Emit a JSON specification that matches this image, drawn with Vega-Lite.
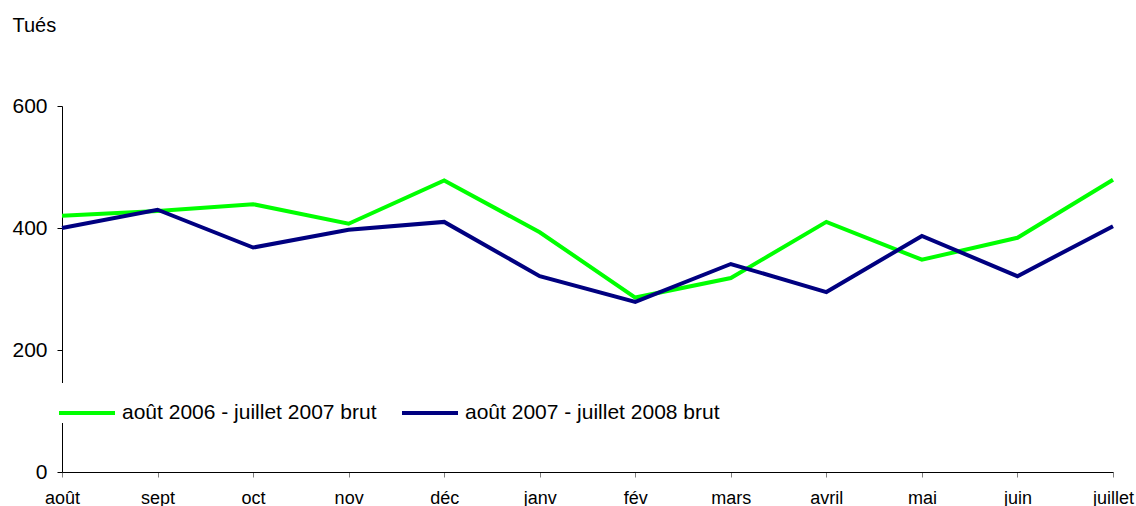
{
  "$schema": "https://vega.github.io/schema/vega-lite/v6.json",
  "autosize": "none",
  "width": 1051,
  "height": 366,
  "padding": {"left": 62, "top": 106, "right": 23, "bottom": 34},
  "background": "white",
  "config": {
    "font": "Liberation Sans",
    "view": {"stroke": null}
  },
  "data": {
    "values": [
      {"mois": "août", "serie": "août 2006 - juillet 2007 brut", "tues": 420},
      {"mois": "sept", "serie": "août 2006 - juillet 2007 brut", "tues": 428},
      {"mois": "oct", "serie": "août 2006 - juillet 2007 brut", "tues": 439},
      {"mois": "nov", "serie": "août 2006 - juillet 2007 brut", "tues": 407},
      {"mois": "déc", "serie": "août 2006 - juillet 2007 brut", "tues": 478},
      {"mois": "janv", "serie": "août 2006 - juillet 2007 brut", "tues": 393},
      {"mois": "fév", "serie": "août 2006 - juillet 2007 brut", "tues": 286},
      {"mois": "mars", "serie": "août 2006 - juillet 2007 brut", "tues": 318},
      {"mois": "avril", "serie": "août 2006 - juillet 2007 brut", "tues": 410},
      {"mois": "mai", "serie": "août 2006 - juillet 2007 brut", "tues": 348},
      {"mois": "juin", "serie": "août 2006 - juillet 2007 brut", "tues": 384},
      {"mois": "juillet", "serie": "août 2006 - juillet 2007 brut", "tues": 479},
      {"mois": "août", "serie": "août 2007 - juillet 2008 brut", "tues": 400},
      {"mois": "sept", "serie": "août 2007 - juillet 2008 brut", "tues": 430},
      {"mois": "oct", "serie": "août 2007 - juillet 2008 brut", "tues": 368},
      {"mois": "nov", "serie": "août 2007 - juillet 2008 brut", "tues": 397},
      {"mois": "déc", "serie": "août 2007 - juillet 2008 brut", "tues": 410},
      {"mois": "janv", "serie": "août 2007 - juillet 2008 brut", "tues": 321},
      {"mois": "fév", "serie": "août 2007 - juillet 2008 brut", "tues": 279},
      {"mois": "mars", "serie": "août 2007 - juillet 2008 brut", "tues": 341},
      {"mois": "avril", "serie": "août 2007 - juillet 2008 brut", "tues": 295},
      {"mois": "mai", "serie": "août 2007 - juillet 2008 brut", "tues": 387},
      {"mois": "juin", "serie": "août 2007 - juillet 2008 brut", "tues": 321},
      {"mois": "juillet", "serie": "août 2007 - juillet 2008 brut", "tues": 403}
    ]
  },
  "mark": {"type": "line", "strokeWidth": 4, "strokeJoin": "miter"},
  "encoding": {
    "x": {
      "field": "mois",
      "type": "ordinal",
      "sort": ["août", "sept", "oct", "nov", "déc", "janv", "fév", "mars", "avril", "mai", "juin", "juillet"],
      "scale": {"type": "point", "padding": 0},
      "axis": {
        "title": null,
        "labelAngle": 0,
        "labelFontSize": 18,
        "labelColor": "black",
        "labelBaseline": "alphabetic",
        "labelPadding": 26,
        "tickSize": 5,
        "tickColor": "#808080",
        "domainColor": "black",
        "grid": false
      }
    },
    "y": {
      "field": "tues",
      "type": "quantitative",
      "scale": {"domain": [0, 600], "nice": false, "zero": true},
      "axis": {
        "values": [0, 200, 400, 600],
        "title": "Tués",
        "titleAngle": 0,
        "titleAlign": "left",
        "titleBaseline": "alphabetic",
        "titleX": -50,
        "titleY": -75,
        "titleFontSize": 20,
        "titleFontWeight": "normal",
        "titleColor": "black",
        "labelFontSize": 21,
        "labelColor": "black",
        "labelPadding": 10,
        "tickSize": 5,
        "tickColor": "black",
        "domainColor": "black",
        "grid": false
      }
    },
    "color": {
      "field": "serie",
      "type": "nominal",
      "scale": {"domain": ["août 2006 - juillet 2007 brut", "août 2007 - juillet 2008 brut"], "range": ["#00FF00", "#000080"]},
      "legend": {
        "title": null,
        "orient": "none",
        "legendX": -5,
        "legendY": 277,
        "direction": "horizontal",
        "symbolType": "stroke",
        "symbolSize": 3136,
        "symbolStrokeWidth": 4,
        "labelFontSize": 21,
        "labelColor": "black",
        "labelOffset": 5,
        "labelLimit": 400,
        "columnPadding": 17,
        "fillColor": "white",
        "padding": 0
      }
    }
  }
}
